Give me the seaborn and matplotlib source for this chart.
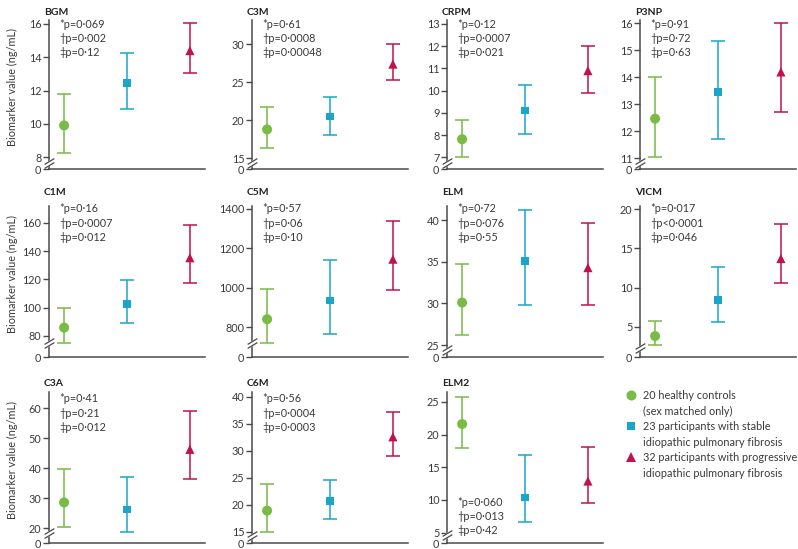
import numpy as np
import pandas as pd
import matplotlib
matplotlib.use('Agg')
import matplotlib.pyplot as plt
from matplotlib.lines import Line2D
import seaborn as sns

# data (mean, lower and upper end of error bar)
panels = ['BGM', 'C3M', 'CRPM', 'P3NP', 'C1M', 'C5M', 'ELM', 'VICM', 'C3A', 'C6M', 'ELM2']
groups = ['healthy', 'stable', 'progressive']

healthy_mean = [9.9, 18.8, 7.81, 12.47, 85.9, 840, 30.1, 3.8, 28.6, 18.9, 21.6]
healthy_lo = [8.24, 16.4, 7.01, 11.06, 74.1, 715, 26.2, 2.7, 20.3, 14.9, 18.0]
healthy_hi = [11.8, 21.7, 8.68, 14.0, 99.8, 995, 34.7, 5.7, 39.9, 23.9, 25.7]

stable_mean = [12.44, 20.5, 9.1, 13.45, 102.7, 934, 35.1, 8.4, 26.2, 20.7, 10.4]
stable_lo = [10.9, 18.0, 8.05, 11.73, 89.0, 764, 29.8, 5.6, 18.8, 17.4, 6.6]
stable_hi = [14.24, 23.1, 10.24, 15.34, 119.9, 1140, 41.2, 12.6, 37.0, 24.6, 16.9]

progressive_mean = [14.4, 27.4, 10.9, 14.2, 135.4, 1145, 34.3, 13.7, 46.3, 32.6, 12.9]
progressive_lo = [13.05, 25.3, 9.91, 12.7, 117.7, 988, 29.8, 10.6, 36.4, 29.0, 9.5]
progressive_hi = [16.04, 30.1, 12.0, 16.0, 158.4, 1338, 39.7, 18.1, 59.2, 37.2, 18.1]

yticks = [[0, 8, 10, 12, 14, 16], [0, 15, 20, 25, 30], [0, 7, 8, 9, 10, 11, 12, 13],
          [0, 11, 12, 13, 14, 15, 16], [0, 80, 100, 120, 140, 160], [0, 800, 1000, 1200, 1400],
          [0, 25, 30, 35, 40], [0, 5, 10, 15, 20], [0, 20, 30, 40, 50, 60],
          [0, 15, 20, 25, 30, 35, 40], [0, 5, 10, 15, 20, 25]]

p_star = ['p=0·069', 'p=0·61', 'p=0·12', 'p=0·91', 'p=0·16', 'p=0·57', 'p=0·72', 'p=0·017',
          'p=0·41', 'p=0·56', 'p=0·060']
p_dagger = ['p=0·002', 'p=0·0008', 'p=0·0007', 'p=0·72', 'p=0·0007', 'p=0·06', 'p=0·076',
            'p<0·0001', 'p=0·21', 'p=0·0004', 'p=0·013']
p_ddagger = ['p=0·12', 'p=0·00048', 'p=0·021', 'p=0·63', 'p=0·012', 'p=0·10', 'p=0·55',
             'p=0·046', 'p=0·012', 'p=0·0003', 'p=0·42']

legend_lines = ['20 healthy controls', '(sex matched only)',
                '23 participants with stable', 'idiopathic pulmonary fibrosis',
                '32 participants with progressive', 'idiopathic pulmonary fibrosis']

# axis top value and value where the axis is broken
y_top = [16.24, 33.2, 13.18, 16.12, 172, 1415, 41.7, 20.4, 65.4, 40.9, 26.5]
y_break = [7.64, 14.38, 6.74, 10.83, 75, 719, 24.4, 2.28, 18.4, 14.2, 4.65]
break_px = [6, 6, 6, 6, 14, 14, 7, 9, 10, 7, 8]

# style
sns.set_style('ticks')
plt.rcParams['font.family'] = ['Lato', 'DejaVu Sans']
plt.rcParams['font.size'] = 7.5

colors = {'healthy': '#78bb45', 'stable': '#1ba6c9', 'progressive': '#c0134a'}
marks = {'healthy': 'o', 'stable': 's', 'progressive': '^'}
areas = {'healthy': 52, 'stable': 30, 'progressive': 44}
axcol = '#4a4a4a'
txtcol = '#3a3a3a'

W, H = 798, 549
fig = plt.figure(figsize=(W / 100, H / 100), dpi=100)

col_x = [49, 252, 447, 640]
row_bottom = [169, 357, 543]
row_top = [20, 206, 392]
ax_w = 156
title_up = [8, 13, 9]
ptext_down = [4, 3, 7]


def make_scale(b, g):
    def fwd(v):
        v = np.asarray(v, dtype=float)
        return np.where(v >= b, g + (v - b), v * g / b)

    def inv(u):
        u = np.asarray(u, dtype=float)
        return np.where(u >= g, b + (u - g), u * b / g)
    return fwd, inv


for i, name in enumerate(panels):
    r, c = divmod(i, 4)
    h_px = row_bottom[r] - row_top[r]
    ax = fig.add_axes([col_x[c] / W, 1 - row_bottom[r] / H, ax_w / W, h_px / H])

    df = pd.DataFrame({
        'group': groups,
        'pos': [0, 1, 2],
        'mean': [healthy_mean[i], stable_mean[i], progressive_mean[i]],
        'lo': [healthy_lo[i], stable_lo[i], progressive_lo[i]],
        'hi': [healthy_hi[i], stable_hi[i], progressive_hi[i]],
    })

    for _, row in df.iterrows():
        ax.errorbar(row['pos'], row['mean'],
                    yerr=[[row['mean'] - row['lo']], [row['hi'] - row['mean']]],
                    fmt='none', ecolor=colors[row['group']], elinewidth=1.1,
                    capsize=5, capthick=1.1, zorder=1)
    sns.scatterplot(data=df, x='pos', y='mean', hue='group', style='group', size='group',
                    palette=colors, markers=marks, sizes=areas, linewidth=0,
                    legend=False, ax=ax, zorder=3)

    # broken axis scale
    top, b = y_top[i], y_break[i]
    ppu = (h_px - break_px[i]) / (top - b)
    g = break_px[i] / ppu
    ax.set_yscale('function', functions=make_scale(b, g))
    ax.set_ylim(0, top)
    ax.set_xlim(-0.24, 2.24)
    ax.set_yticks(yticks[i])
    ax.set_yticklabels([str(t) for t in yticks[i]])
    ax.yaxis.set_minor_locator(plt.NullLocator())
    ax.set_xticks([])
    ax.set_xlabel('')
    ax.set_ylabel('')
    for s in ['top', 'right']:
        ax.spines[s].set_visible(False)
    for s in ['left', 'bottom']:
        ax.spines[s].set_color(axcol)
        ax.spines[s].set_linewidth(1.1)
    ax.tick_params(axis='y', length=4.5, width=1, color=axcol, pad=1,
                   labelsize=7.8, labelcolor=txtcol)

    # break marks on the spine
    fb = g / (g + top - b)
    ax.plot([0], [fb], transform=ax.transAxes, marker=[(-1, -0.6), (1, 0.6)],
            markersize=7, mew=3.5, color='white', clip_on=False, zorder=5)
    for d in (-1.8, 1.8):
        ax.plot([0], [fb + d / h_px], transform=ax.transAxes,
                marker=[(-1, -0.6), (1, 0.6)], markersize=7, mew=0.9,
                color=axcol, clip_on=False, zorder=6)

    # panel title
    ax.text(-5 / ax_w, 1 + title_up[r] / h_px, name, transform=ax.transAxes,
            ha='left', va='center', fontsize=7.5, fontweight='bold', color='#222222')

    # p values
    ptexts = ['*' + p_star[i], '†' + p_dagger[i], '‡' + p_ddagger[i]]
    for k, t in enumerate(ptexts):
        if name == 'ELM2':
            y = (12 + (2 - k) * 14.3) / h_px
        else:
            y = 1 - (ptext_down[r] + k * 14.3) / h_px
        ax.text(10 / ax_w, y, t, transform=ax.transAxes, ha='left', va='center',
                fontsize=7.8, color=txtcol)

    if c == 0:
        ax.set_ylabel('Biomarker value (ng/mL)', fontsize=7.8, color=txtcol)
        ax.yaxis.set_label_coords(-0.2, 0.55)

# legend
handles = []
for grp in groups:
    handles.append(Line2D([], [], ls='none', marker=marks[grp], color=colors[grp],
                          markersize=np.sqrt(areas[grp]), mew=0))
    handles.append(Line2D([], [], ls='none'))
fig.legend(handles, legend_lines, loc='upper left',
           bbox_to_anchor=(626 / W, 1 - 390 / H), frameon=False,
           handlelength=1.0, handletextpad=0.55, borderpad=0, borderaxespad=0,
           labelspacing=0.42, fontsize=7.8, labelcolor=txtcol)

fig.savefig('out.png', dpi=100)
